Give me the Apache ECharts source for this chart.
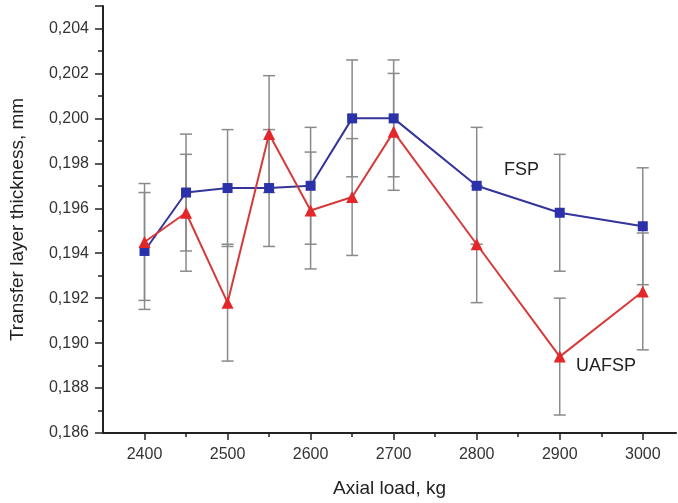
<!DOCTYPE html>
<html><head><meta charset="utf-8">
<script src="https://cdn.jsdelivr.net/npm/echarts@6/dist/echarts.min.js"></script>
<style>html,body{margin:0;padding:0;background:#fff}#c{width:678px;height:503px}</style>
</head><body><div id="c"></div>
<script>
const loads = [2400, 2450, 2500, 2550, 2600, 2650, 2700, 2800, 2900, 3000];
const fsp = [0.1941, 0.1967, 0.1969, 0.1969, 0.1970, 0.2000, 0.2000, 0.1970, 0.1958, 0.1952];
const uafsp = [0.1945, 0.1958, 0.1918, 0.1993, 0.1959, 0.1965, 0.1994, 0.1944, 0.1894, 0.1923];
const fspErr = [0.0026, 0.0026, 0.0026, 0.0026, 0.0026, 0.0026, 0.0026, 0.0026, 0.0026, 0.0026];
const uafspErr = [0.0026, 0.0026, 0.0026, 0.0026, 0.0026, 0.0026, 0.0026, 0.0026, 0.0026, 0.0026];
const xMajorTicks = [2400, 2500, 2600, 2700, 2800, 2900, 3000];
const xMinorTicks = [2450, 2550, 2650, 2750, 2850, 2950];

const FONT = 'Liberation Sans';
const chart = echarts.init(document.getElementById('c'));

function errData(vals, errs) {
  return loads.map((x, i) => [x, vals[i] - errs[i], vals[i] + errs[i]]);
}
function errSeries(vals, errs) {
  return {
    type: 'custom', z: 1,
    data: errData(vals, errs),
    renderItem: function (params, api) {
      const x = api.value(0);
      const lo = api.coord([x, api.value(1)]);
      const hi = api.coord([x, api.value(2)]);
      const w = 6;
      const st = { stroke: '#8a8a8a', lineWidth: 1.5 };
      return { type: 'group', children: [
        { type: 'line', shape: { x1: lo[0], y1: lo[1], x2: hi[0], y2: hi[1] }, style: st },
        { type: 'line', shape: { x1: lo[0] - w, y1: lo[1], x2: lo[0] + w, y2: lo[1] }, style: st },
        { type: 'line', shape: { x1: hi[0] - w, y1: hi[1], x2: hi[0] + w, y2: hi[1] }, style: st }
      ]};
    }
  };
}

chart.setOption({
  animation: false,
  grid: { left: 103, right: 2, top: 6, bottom: 70, containLabel: false, outerBoundsMode: 'none' },
  xAxis: [{
    type: 'value', min: 2350, max: 3040,
    name: 'Axial load, kg', nameLocation: 'middle', nameGap: 46,
    nameTextStyle: { fontFamily: FONT, fontSize: 19, color: '#222' },
    axisLine: { lineStyle: { color: '#222', width: 2 } },
    axisTick: { customValues: xMajorTicks, length: 7, lineStyle: { color: '#222', width: 1.5 } },
    axisLabel: { customValues: xMajorTicks, fontFamily: FONT, fontSize: 16, color: '#333', margin: 14,
      formatter: v => String(v) },
    splitLine: { show: false }
  }, {
    type: 'value', min: 2350, max: 3040, position: 'bottom',
    axisLine: { show: false },
    axisTick: { customValues: xMinorTicks, length: 4, lineStyle: { color: '#222', width: 1.5 } },
    axisLabel: { show: false },
    splitLine: { show: false }
  }],
  yAxis: {
    type: 'value', min: 0.186, max: 0.205, interval: 0.002,
    name: 'Transfer layer thickness, mm', nameLocation: 'middle', nameGap: 76,
    nameTextStyle: { fontFamily: FONT, fontSize: 19, color: '#222' },
    axisLine: { show: true, lineStyle: { color: '#222', width: 2 } },
    axisTick: { show: true, length: 8, lineStyle: { color: '#222', width: 1.5 } },
    minorTick: { show: true, splitNumber: 2, length: 5, lineStyle: { color: '#222', width: 1.5 } },
    axisLabel: { fontFamily: FONT, fontSize: 16, color: '#333', margin: 14,
      formatter: v => v.toFixed(3).replace('.', ','),
      showMaxLabel: false },
    splitLine: { show: false }
  },
  series: [
    errSeries(fsp, fspErr),
    errSeries(uafsp, uafspErr),
    {
      type: 'line', z: 3, data: loads.map((x, i) => [x, fsp[i]]),
      symbol: 'rect', symbolSize: 10,
      lineStyle: { color: '#34349a', width: 2 },
      itemStyle: { color: '#2b31a8' }
    },
    {
      type: 'line', z: 4, data: loads.map((x, i) => [x, uafsp[i]]),
      symbol: 'triangle', symbolSize: 12,
      lineStyle: { color: '#d63a3a', width: 2 },
      itemStyle: { color: '#e3262a' }
    }
  ],
  graphic: [
    { type: 'text', left: 504, top: 161, style: { text: 'FSP', fontFamily: FONT, fontSize: 18, fill: '#222' } },
    { type: 'text', left: 576, top: 357, style: { text: 'UAFSP', fontFamily: FONT, fontSize: 18, fill: '#222' } }
  ]
});
</script></body></html>
